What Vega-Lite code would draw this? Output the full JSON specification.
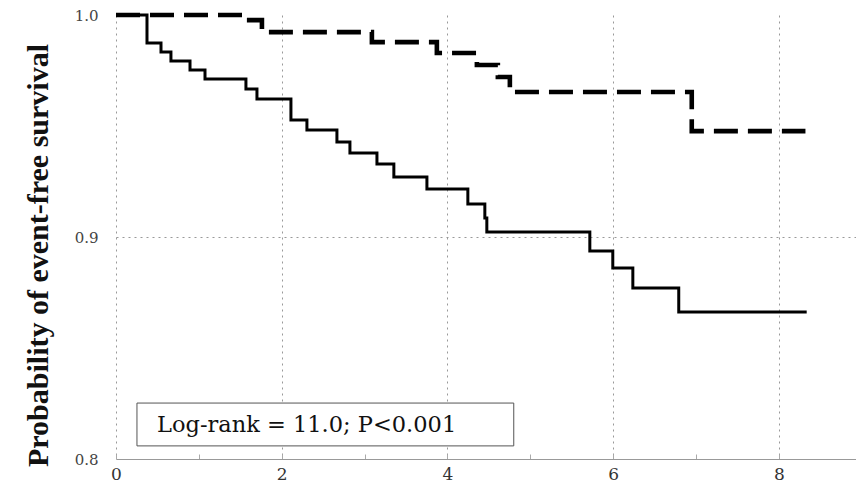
{
  "$schema": "https://vega.github.io/schema/vega-lite/v6.json",
  "width": 740,
  "height": 444,
  "autosize": {"type": "none"},
  "padding": {"left": 116, "top": 15, "right": 0, "bottom": 25},
  "background": "white",
  "config": {"view": {"stroke": null}, "font": "Liberation Serif"},
  "datasets": {
    "km": [
      {"t": 0, "s": 1.0, "g": "A"},
      {"t": 0.374, "s": 0.9874, "g": "A"},
      {"t": 0.543, "s": 0.9833, "g": "A"},
      {"t": 0.663, "s": 0.9793, "g": "A"},
      {"t": 0.893, "s": 0.9752, "g": "A"},
      {"t": 1.074, "s": 0.9712, "g": "A"},
      {"t": 1.568, "s": 0.9667, "g": "A"},
      {"t": 1.701, "s": 0.9622, "g": "A"},
      {"t": 2.111, "s": 0.9527, "g": "A"},
      {"t": 2.304, "s": 0.9482, "g": "A"},
      {"t": 2.666, "s": 0.9428, "g": "A"},
      {"t": 2.823, "s": 0.9378, "g": "A"},
      {"t": 3.149, "s": 0.9329, "g": "A"},
      {"t": 3.353, "s": 0.927, "g": "A"},
      {"t": 3.752, "s": 0.9216, "g": "A"},
      {"t": 4.246, "s": 0.9149, "g": "A"},
      {"t": 4.451, "s": 0.9086, "g": "A"},
      {"t": 4.475, "s": 0.9023, "g": "A"},
      {"t": 5.718, "s": 0.8937, "g": "A"},
      {"t": 5.995, "s": 0.886, "g": "A"},
      {"t": 6.237, "s": 0.877, "g": "A"},
      {"t": 6.791, "s": 0.8662, "g": "A"},
      {"t": 8.335, "s": 0.8662, "g": "A"},
      {"t": 0, "s": 1.0, "g": "B"},
      {"t": 1.532, "s": 0.9977, "g": "B"},
      {"t": 1.761, "s": 0.9923, "g": "B"},
      {"t": 3.088, "s": 0.9878, "g": "B"},
      {"t": 3.872, "s": 0.9829, "g": "B"},
      {"t": 4.355, "s": 0.9775, "g": "B"},
      {"t": 4.608, "s": 0.9721, "g": "B"},
      {"t": 4.753, "s": 0.9653, "g": "B"},
      {"t": 6.948, "s": 0.9477, "g": "B"},
      {"t": 8.32, "s": 0.9477, "g": "B"}
    ],
    "note": [{"label": "Log-rank = 11.0; P<0.001"}]
  },
  "layer": [
    {
      "data": {"name": "km"},
      "mark": {"type": "line", "interpolate": "step-after", "color": "#000", "strokeCap": "butt"},
      "encoding": {
        "x": {
          "field": "t", "type": "quantitative",
          "scale": {"domain": [0, 8.93], "nice": false, "zero": false},
          "axis": {
            "title": null,
            "values": [0, 1, 2, 3, 4, 5, 6, 7, 8],
            "format": "d",
            "labelExpr": "datum.value % 2 == 0 ? datum.label : ''",
            "grid": true,
            "gridColor": "#999",
            "gridDash": [2, 4],
            "gridOpacity": {"condition": {"test": "datum.value % 2 == 1", "value": 0}, "value": 1},
            "domainColor": "#999",
            "tickColor": "#aaa",
            "tickSize": -5,
            "labelFont": "DejaVu Serif",
            "labelFontSize": 17,
            "labelColor": "#333",
            "labelPadding": 12,
            "labelFlush": false
          }
        },
        "y": {
          "field": "s", "type": "quantitative",
          "scale": {"domain": [0.8, 1.0], "nice": false, "zero": false},
          "axis": {
            "title": "Probability of event-free survival",
            "titleFont": "Liberation Serif",
            "titleFontSize": 30,
            "titleFontWeight": "bold",
            "titleColor": "#111",
            "titleX": -78,
            "titleY": 240,
            "titleBaseline": "middle",
            "titleAlign": "center",
            "titleAngle": -90,
            "values": [0.8, 0.9, 1.0],
            "format": ".1f",
            "grid": true,
            "gridColor": "#999",
            "gridDash": [2, 4],
            "gridOpacity": {"condition": {"test": "datum.value > 0.85 && datum.value < 0.95", "value": 1}, "value": 0},
            "domain": false,
            "ticks": false,
            "labelFont": "DejaVu Serif",
            "labelFontSize": 15,
            "labelColor": "#444",
            "labelPadding": 18
          }
        },
        "strokeDash": {
          "field": "g", "type": "nominal",
          "scale": {"domain": ["A", "B"], "range": [[1, 0], [24, 10]]},
          "legend": null
        },
        "strokeWidth": {
          "field": "g", "type": "nominal",
          "scale": {"domain": ["A", "B"], "range": [3, 4.6]},
          "legend": null
        }
      }
    },
    {
      "mark": {"type": "rule", "color": "#999", "strokeWidth": 1},
      "encoding": {"y": {"datum": 1.0}}
    },
    {
      "data": {"name": "note"},
      "mark": {"type": "rect", "fill": "white", "stroke": "#555", "strokeWidth": 1},
      "encoding": {
        "x": {"datum": 0.253},
        "x2": {"datum": 4.8},
        "y": {"datum": 0.8252},
        "y2": {"datum": 0.8059}
      }
    },
    {
      "data": {"name": "note"},
      "mark": {"type": "text", "align": "left", "baseline": "middle", "fontSize": 22.5, "color": "#111", "font": "DejaVu Serif"},
      "encoding": {
        "x": {"datum": 0.495},
        "y": {"datum": 0.8155},
        "text": {"field": "label"}
      }
    }
  ]
}
